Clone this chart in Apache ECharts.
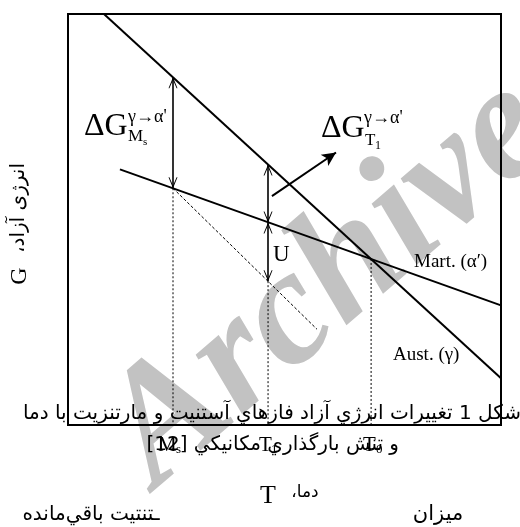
<!DOCTYPE html>
<html>
<head>
<meta charset="utf-8">
<script src="https://cdn.jsdelivr.net/npm/echarts@6/dist/echarts.min.js"></script>
<style>html,body{margin:0;padding:0;background:#fff;}#c{width:520px;height:527px;}</style>
</head>
<body>
<div id="c"></div>
<script>
// ---- data (schematic units: x = temperature axis 0..100, y = free energy 0..100) ----
const xRange = [0, 100];
const yRange = [0, 100];
const austenite = [[8.3, 100], [100, 11.4]];        // Aust. (γ)
const martensite = [[12.0, 62.2], [100, 29.1]];     // Mart. (α′)
const dashedExtension = [[24.25, 57.6], [57.5, 23.3]];
const markNames = ['Ms', 'T1', 'T0'];
const markX = [24.25, 46.2, 70.0];
const markTop = [57.6, 35.0, 40.4];
const arrowMs = [[24.25, 84.6], [24.25, 57.6]];
const arrowT1 = [[46.2, 63.4], [46.2, 49.3]];
const arrowU = [[46.2, 49.3], [46.2, 35.0]];
const curvedArrow = [[47.1, 55.7], [61.9, 66.3]];

const SERIF = '"Liberation Serif","Times New Roman",serif';
const AR = '"DejaVu Sans",sans-serif';
const RLI = '\u2067', PDI = '\u2069';
const chev = 'path://M5,0 L5,0.01 Z M0,20 L5,10 L10,20 L9,20 L5,12.5 L1,20 Z';

const chart = echarts.init(document.getElementById('c'), null, {renderer: 'canvas'});

function txt(text, x, y, font, opts) {
  return Object.assign({
    type: 'text', x: x, y: y, z: 10,
    style: Object.assign({text: text, font: font, fill: '#000', align: 'left', verticalAlign: 'middle'}, (opts && opts.style) || {})
  }, opts && opts.rotation !== undefined ? {rotation: opts.rotation} : {});
}

const guideSeries = markNames.map((n, i) => ({
  name: n, type: 'line', data: [[markX[i], markTop[i]], [markX[i], yRange[0]]],
  symbol: 'none', silent: true, z: 3,
  lineStyle: {color: '#000', width: 1, type: [2, 2]}
}));

function arrowLine(pts) {
  return [{coord: pts[0]}, {coord: pts[1]}];
}

const option = {
  animation: false,
  backgroundColor: '#fff',
  grid: {left: 68, top: 14, right: 19, bottom: 102, show: true, borderColor: '#000', borderWidth: 2, z: 4},
  xAxis: {type: 'value', min: xRange[0], max: xRange[1], show: false},
  yAxis: {type: 'value', min: yRange[0], max: yRange[1], show: false},
  series: [
    {name: 'Aust. (γ)', type: 'line', data: austenite, symbol: 'none', z: 5, lineStyle: {color: '#000', width: 2}},
    {name: 'Mart. (α′)', type: 'line', data: martensite, symbol: 'none', z: 5, lineStyle: {color: '#000', width: 2}},
    {name: 'ext', type: 'line', data: dashedExtension, symbol: 'none', z: 3, lineStyle: {color: '#000', width: 1, type: [3, 2]}},
    ...guideSeries,
    {
      name: 'arrows', type: 'line', data: [], z: 6,
      markLine: {
        silent: true, animation: false,
        symbol: [chev, chev], symbolSize: [9, 22],
        label: {show: false},
        lineStyle: {color: '#000', width: 1.6, type: 'solid'},
        data: [arrowLine(arrowMs), arrowLine(arrowT1), arrowLine(arrowU)]
      }
    },
    {
      name: 'curved', type: 'line', data: [], z: 6,
      markLine: {
        silent: true, animation: false,
        symbol: ['none', 'arrow'], symbolSize: [10, 14],
        label: {show: false},
        lineStyle: {color: '#000', width: 2, type: 'solid', curveness: -0.3},
        data: [arrowLine(curvedArrow)]
      }
    }
  ],
  graphic: [
    {type: 'text', x: 330, y: 283, rotation: 0.71, z: 0, zlevel: 0,
     style: {text: 'Archive', font: 'italic bold 165px ' + SERIF, fill: '#c2c2c2', align: 'center', verticalAlign: 'middle'}},
    // ΔG at Ms
    txt('ΔG', 84, 127, '32px ' + SERIF),
    txt('γ→α\'', 128, 117, '18px ' + SERIF),
    txt('M', 128, 137, '17px ' + SERIF),
    txt('s', 143, 142, '11px ' + SERIF),
    // ΔG at T1
    txt('ΔG', 321, 129, '32px ' + SERIF),
    txt('γ→α\'', 364, 118, '18px ' + SERIF),
    txt('T', 365, 141, '17px ' + SERIF),
    txt('1', 375, 146, '12px ' + SERIF),
    txt('U', 273, 255, '23px ' + SERIF),
    txt('Mart. (α′)', 414, 262, '19px ' + SERIF),
    txt('Aust. (γ)', 393, 355, '19px ' + SERIF),
    // y axis name
    txt(RLI + 'انرژی آزاد،' + PDI, 19, 208, '20px ' + AR, {rotation: Math.PI / 2, style: {align: 'center'}}),
    txt('G', 20, 276, '24px ' + SERIF, {rotation: Math.PI / 2, style: {align: 'center'}}),
    // caption
    txt('شکل 1 تغییرات انرژي آزاد فازهاي آستنيت و مارتنزيت با دما', 521, 414, '20px ' + AR, {style: {align: 'right'}}),
    txt('و تنش بارگذاري مكانيكي [12]', 399, 445, '20px ' + AR, {style: {align: 'right'}}),
    // temperature tick labels
    txt('M', 158, 445, '21px ' + SERIF),
    txt('s', 176, 450, '13px ' + SERIF),
    txt('T', 259, 445, '21px ' + SERIF),
    txt('1', 271, 450, '13px ' + SERIF),
    txt('T', 363, 445, '21px ' + SERIF),
    txt('0', 376, 450, '13px ' + SERIF),
    // axis title
    txt('T', 268, 496, '26px ' + SERIF, {style: {align: 'center'}}),
    txt(RLI + 'دما،' + PDI, 305, 493, '17px ' + AR, {style: {align: 'center'}}),
    txt('ميزان', 438, 515, '21px ' + AR, {style: {align: 'center'}}),
    txt('ـتنتيت باقي‌مانده', 91, 515, '20px ' + AR, {style: {align: 'center'}})
  ]
};
chart.setOption(option);
</script>
</body>
</html>
